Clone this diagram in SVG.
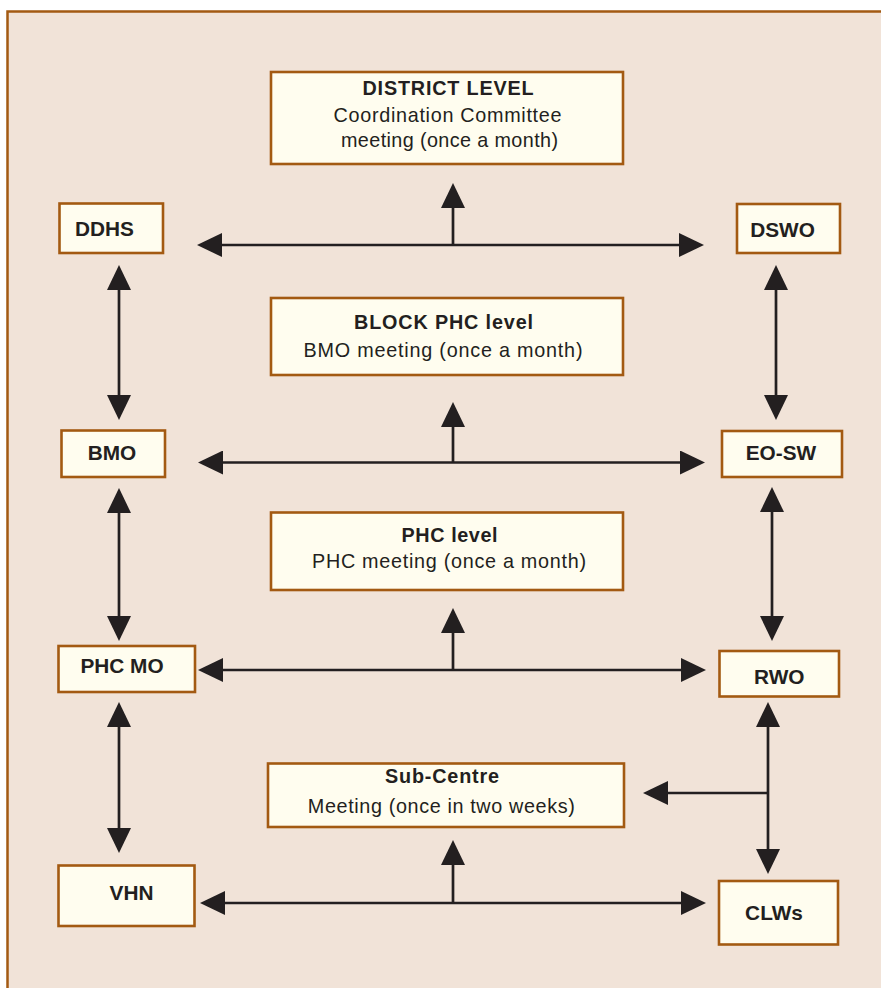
<svg xmlns="http://www.w3.org/2000/svg" width="881" height="988" viewBox="0 0 881 988">
<defs>
<style>
.frame{fill:#F1E3D8;stroke:#A35A12;stroke-width:2.5}
.box{fill:#FFFDEF;stroke:#A35A12;stroke-width:2.6}
.lbl{font-family:"Liberation Sans",Arial,sans-serif;font-weight:bold;font-size:20.8px;fill:#231F20;text-anchor:middle}
.hd{font-family:"Liberation Sans",Arial,sans-serif;font-weight:bold;font-size:19.8px;fill:#231F20;text-anchor:middle}
.tx{font-family:"Liberation Sans",Arial,sans-serif;font-size:19.8px;fill:#231F20;text-anchor:middle}
.c{stroke:#231F20;stroke-width:2.7;fill:none}
.b{marker-start:url(#ah);marker-end:url(#ah)}
.e{marker-end:url(#ah)}
</style>
<marker id="ah" viewBox="0 0 25 24" markerWidth="25" markerHeight="24" markerUnits="userSpaceOnUse" refX="3" refY="12" orient="auto-start-reverse">
<path d="M0,0 L25,12 L0,24 z" fill="#231F20"/>
</marker>
</defs>
<rect class="frame" x="7.5" y="11.5" width="900" height="1000"/>

<g id="connectors">
<line class="c b" x1="219" y1="245" x2="682" y2="245"/>
<line class="c e" x1="453" y1="245" x2="453" y2="205"/>
<line class="c b" x1="220" y1="462.5" x2="683" y2="462.5"/>
<line class="c e" x1="453" y1="462.5" x2="453" y2="424"/>
<line class="c b" x1="220" y1="670" x2="684" y2="670"/>
<line class="c e" x1="453" y1="670" x2="453" y2="630"/>
<line class="c b" x1="222" y1="903" x2="684" y2="903"/>
<line class="c e" x1="453" y1="903" x2="453" y2="862"/>
<line class="c b" x1="119" y1="287" x2="119" y2="398"/>
<line class="c b" x1="119" y1="510" x2="119" y2="619"/>
<line class="c b" x1="119" y1="724" x2="119" y2="831"/>
<line class="c b" x1="776" y1="287" x2="776" y2="398"/>
<line class="c b" x1="772" y1="509" x2="772" y2="619"/>
<line class="c b" x1="768" y1="724" x2="768" y2="852"/>
<line class="c e" x1="769" y1="793" x2="665" y2="793"/>
</g>

<g id="district">
<rect class="box" x="271" y="72" width="352" height="92"/>
<text class="hd" x="448" y="95" textLength="171" lengthAdjust="spacing">DISTRICT LEVEL</text>
<text class="tx" x="447.5" y="122" textLength="228" lengthAdjust="spacing">Coordination Committee</text>
<text class="tx" x="449.5" y="147" textLength="217" lengthAdjust="spacing">meeting (once a month)</text>
</g>

<g id="block">
<rect class="box" x="271" y="298" width="352" height="77"/>
<text class="hd" x="443.5" y="329" textLength="179" lengthAdjust="spacing">BLOCK PHC level</text>
<text class="tx" x="443" y="356.7" textLength="279" lengthAdjust="spacing">BMO meeting (once a month)</text>
</g>

<g id="phc">
<rect class="box" x="271" y="512.5" width="352" height="77.5"/>
<text class="hd" x="449.5" y="541.7" textLength="96" lengthAdjust="spacing">PHC level</text>
<text class="tx" x="449" y="568" textLength="274" lengthAdjust="spacing">PHC meeting (once a month)</text>
</g>

<g id="subcentre">
<rect class="box" x="268" y="763.5" width="356" height="63.5"/>
<text class="hd" x="442" y="783.3" textLength="114" lengthAdjust="spacing">Sub-Centre</text>
<text class="tx" x="441.3" y="813.3" textLength="267" lengthAdjust="spacing">Meeting (once in two weeks)</text>
</g>

<g id="ddhs">
<rect class="box" x="59.5" y="203.5" width="103.5" height="49.5"/>
<text class="lbl" x="104.5" y="236">DDHS</text>
</g>
<g id="dswo">
<rect class="box" x="737" y="204" width="103" height="49"/>
<text class="lbl" x="782.5" y="236.7">DSWO</text>
</g>
<g id="bmo">
<rect class="box" x="61.5" y="430.5" width="103.5" height="46.5"/>
<text class="lbl" x="112" y="460">BMO</text>
</g>
<g id="eosw">
<rect class="box" x="722" y="431" width="120" height="46"/>
<text class="lbl" x="781" y="460">EO-SW</text>
</g>
<g id="phcmo">
<rect class="box" x="58.5" y="646" width="136.5" height="46"/>
<text class="lbl" x="122" y="673">PHC MO</text>
</g>
<g id="rwo">
<rect class="box" x="719.5" y="651" width="119.5" height="45.5"/>
<text class="lbl" x="779.3" y="684.3">RWO</text>
</g>
<g id="vhn">
<rect class="box" x="58.5" y="865.5" width="136" height="60.5"/>
<text class="lbl" x="131.5" y="900">VHN</text>
</g>
<g id="clws">
<rect class="box" x="719" y="881" width="119" height="63.5"/>
<text class="lbl" x="774" y="920">CLWs</text>
</g>
</svg>
